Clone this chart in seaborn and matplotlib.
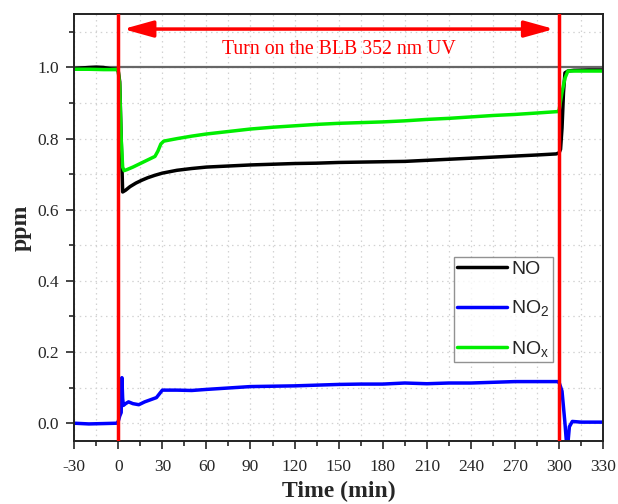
import matplotlib
matplotlib.use("Agg")
import matplotlib.pyplot as plt
from matplotlib.ticker import MultipleLocator
import pandas as pd
import seaborn as sns

# NO (black)
t_no = [-30, -20, -15, -10, -5, -1, 0, 1, 2, 3, 5, 8, 12, 16, 20, 25, 30, 40, 50, 60, 75, 90,
        105, 120, 135, 150, 165, 180, 195, 210, 225, 240, 255, 270, 285, 298, 300, 301, 302,
        303, 304, 306, 310, 320, 330]
no = [0.997, 1.0, 1.001, 1.0, 0.996, 0.995, 0.99, 0.96, 0.80, 0.65, 0.655, 0.665, 0.675, 0.683,
      0.69, 0.697, 0.703, 0.711, 0.716, 0.72, 0.723, 0.726, 0.728, 0.73, 0.731, 0.733, 0.734,
      0.735, 0.736, 0.739, 0.742, 0.745, 0.748, 0.751, 0.754, 0.757, 0.76, 0.77, 0.83, 0.93,
      0.985, 0.99, 0.992, 0.993, 0.993]

# NO2 (blue)
t_no2 = [-30, -20, -10, -1, 0, 1, 2, 2.5, 3, 3.5, 5, 7, 10, 14, 18, 22, 26, 30, 40, 50, 60, 75,
         90, 105, 120, 135, 150, 165, 180, 195, 210, 225, 240, 255, 270, 285, 299, 300, 302,
         304, 305.5, 307, 309, 315, 330]
no2 = [0.0, -0.002, -0.001, 0.0, 0.005, 0.02, 0.03, 0.128, 0.07, 0.05, 0.055, 0.06, 0.055, 0.052,
       0.06, 0.066, 0.072, 0.093, 0.093, 0.092, 0.095, 0.099, 0.103, 0.104, 0.105, 0.107, 0.109,
       0.11, 0.11, 0.113, 0.111, 0.113, 0.113, 0.115, 0.117, 0.117, 0.117, 0.115, 0.09, 0.0,
       -0.08, -0.01, 0.005, 0.003, 0.003]

# NOx (green)
t_nox = [-30, -20, -10, -1, 0, 1, 2, 3, 4, 6, 10, 15, 20, 25, 27, 29, 31, 40, 50, 60, 75, 90, 105,
         120, 135, 150, 165, 180, 195, 210, 225, 240, 255, 270, 285, 299, 300, 302, 304, 306,
         310, 330]
nox = [0.995, 0.995, 0.994, 0.994, 0.99, 0.95, 0.80, 0.72, 0.71, 0.713, 0.72, 0.73, 0.74, 0.75,
       0.765, 0.785, 0.793, 0.80, 0.807, 0.813, 0.82, 0.827, 0.832, 0.836, 0.84, 0.843, 0.845,
       0.847, 0.85, 0.854, 0.857, 0.861, 0.865, 0.868, 0.872, 0.876, 0.88, 0.93, 0.97, 0.99,
       0.99, 0.99]

uv_on, uv_off = 0, 300
annot = "Turn on the BLB 352 nm UV"

df = pd.concat([
    pd.DataFrame({"t": t_no, "ppm": no, "gas": "NO"}),
    pd.DataFrame({"t": t_no2, "ppm": no2, "gas": "NO$_2$"}),
    pd.DataFrame({"t": t_nox, "ppm": nox, "gas": "NO$_x$"}),
])

sns.set_style("ticks")
plt.rcParams['font.family'] = ['Liberation Serif', 'DejaVu Serif']
plt.rcParams['mathtext.fontset'] = 'custom'
plt.rcParams['mathtext.rm'] = 'Liberation Sans'
plt.rcParams['mathtext.it'] = 'Liberation Sans'
plt.rcParams['axes.unicode_minus'] = False

fig = plt.figure(figsize=(6.18, 5.04), dpi=100)
ax = fig.add_axes([0.12, 0.125, 0.856, 0.847])

ax.axhline(1.0, color="#666666", lw=1.6, zorder=1)

sns.lineplot(data=df, x="t", y="ppm", hue="gas", estimator=None, sort=True,
             palette=["black", "#0000ff", "#00ee00"], linewidth=2.5, ax=ax, legend=True)

ax.axvline(uv_on, color="red", lw=2.5, zorder=5)
ax.axvline(uv_off, color="red", lw=2.5, zorder=5)
ax.annotate("", xy=(uv_on + 1.5, 1.108), xytext=(uv_off - 1.5, 1.108),
            arrowprops=dict(arrowstyle="<|-|>,head_length=0.9,head_width=0.25",
                            color="red", lw=2.5, mutation_scale=20))
ax.text(150, 1.05, annot, color="red", fontsize=14.2, ha="center", va="center")

ax.set_xlim(-30, 330)
ax.set_ylim(-0.05, 1.15)
ax.xaxis.set_major_locator(MultipleLocator(30))
ax.xaxis.set_minor_locator(MultipleLocator(15))
ax.yaxis.set_major_locator(MultipleLocator(0.2))
ax.yaxis.set_minor_locator(MultipleLocator(0.1))
ax.grid(which="both", color="#d2d2d2", ls=(0, (1.2, 3)), lw=0.9)
ax.tick_params(which="major", direction="out", length=6, width=1.2, labelsize=12.5, pad=5)
ax.tick_params(axis="x", which="major", pad=7)
ax.tick_params(which="minor", direction="out", length=3.5, width=1.2)
for s in ax.spines.values():
    s.set_linewidth(1.4)
    s.set_color("#222222")

ax.set_xlabel("Time (min)", fontsize=17, fontweight="bold", labelpad=4)
ax.set_ylabel("ppm", fontsize=17, fontweight="bold", labelpad=4)

leg = ax.legend(loc="upper left", bbox_to_anchor=(0.718, 0.43), frameon=True, fancybox=False,
                handlelength=2.6, handletextpad=0.2, labelspacing=1.05, borderpad=0.15,
                borderaxespad=0, prop={"family": "Liberation Sans", "size": 14})
leg.get_frame().set_edgecolor("#777777")
leg.get_frame().set_linewidth(1.0)
for h in leg.get_lines():
    h.set_linewidth(2.5)

fig.savefig("out.png", dpi=100)
